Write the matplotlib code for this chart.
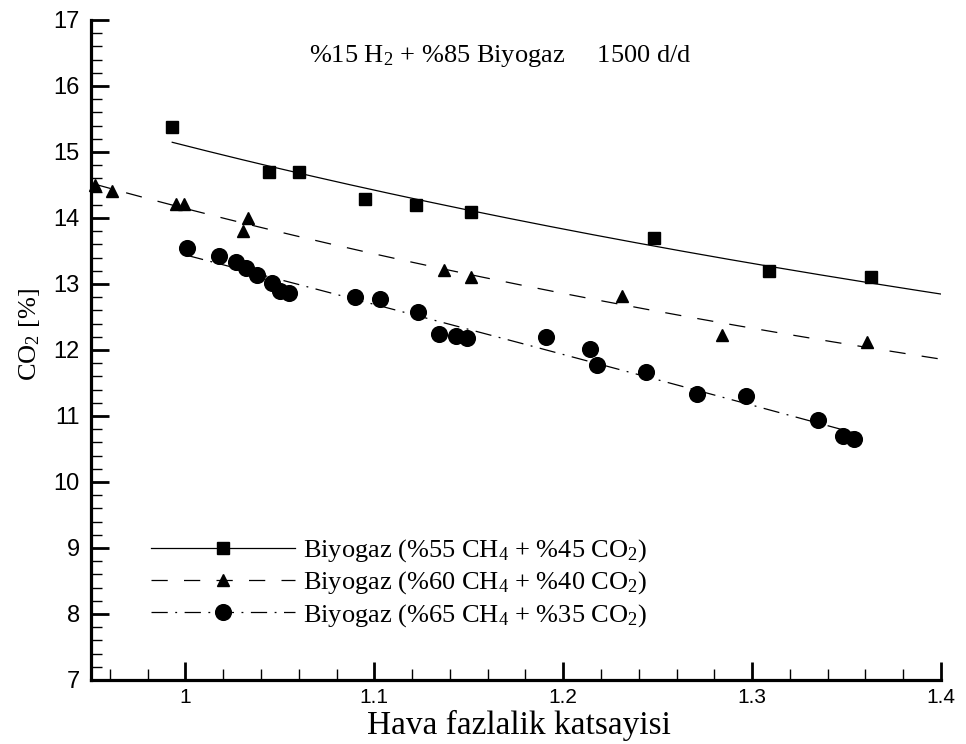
import numpy as np
import matplotlib
matplotlib.use("Agg")
import matplotlib.pyplot as plt
from matplotlib.ticker import MultipleLocator, FixedLocator, FixedFormatter

plt.rcParams['mathtext.fontset'] = 'custom'
plt.rcParams['mathtext.rm'] = 'Liberation Serif'
plt.rcParams['mathtext.it'] = 'Liberation Serif:italic'

# ---------------- data ----------------
x_sq = [0.993, 1.044, 1.060, 1.095, 1.122, 1.151, 1.248, 1.309, 1.363]
y_sq = [15.38, 14.70, 14.70, 14.29, 14.19, 14.09, 13.69, 13.19, 13.10]

x_tr = [0.952, 0.961, 0.995, 0.999, 1.0305, 1.033, 1.137, 1.151, 1.231, 1.284, 1.361]
y_tr = [14.50, 14.41, 14.21, 14.21, 13.81, 14.00, 13.21, 13.11, 12.82, 12.22, 12.12]

x_ci = [1.001, 1.018, 1.027, 1.032, 1.038, 1.046, 1.050, 1.055, 1.090, 1.103,
        1.123, 1.134, 1.143, 1.149, 1.191, 1.214, 1.218, 1.244, 1.271, 1.297,
        1.335, 1.348, 1.354]
y_ci = [13.54, 13.43, 13.33, 13.24, 13.13, 13.02, 12.89, 12.87, 12.80, 12.78,
        12.57, 12.24, 12.21, 12.18, 12.19, 12.02, 11.78, 11.67, 11.34, 11.30,
        10.94, 10.70, 10.65]

labels = [r"Biyogaz (%55 CH$_4$ + %45 CO$_2$)",
          r"Biyogaz (%60 CH$_4$ + %40 CO$_2$)",
          r"Biyogaz (%65 CH$_4$ + %35 CO$_2$)"]
title_txt = r"%15 H$_2$ + %85 Biyogaz     1500 d/d"
xlabel = "Hava fazlalik katsayisi"
ylabel = r"CO$_2$ [%]"
xticks = [1.0, 1.1, 1.2, 1.3, 1.4]
xticklabels = ["1", "1.1", "1.2", "1.3", "1.4"]
yticks = [7, 8, 9, 10, 11, 12, 13, 14, 15, 16, 17]

# ---------------- fits ----------------
def power_fit(x, y):
    b, lna = np.polyfit(np.log(x), np.log(y), 1)
    return lambda t: np.exp(lna) * np.power(t, b)

f_sq = power_fit(np.array(x_sq), np.array(y_sq))
f_tr = power_fit(np.array(x_tr), np.array(y_tr))
p_ci = np.polyfit(x_ci, y_ci, 2)

XMAX = 1.4
t_sq = np.linspace(min(x_sq), XMAX, 200)
t_tr = np.linspace(min(x_tr), XMAX, 200)
t_ci = np.linspace(min(x_ci), max(x_ci), 200)

# ---------------- figure ----------------
fig = plt.figure(figsize=(9.66, 7.44), dpi=100)
ax = fig.add_axes([91/966, 1-680/744, (941-91)/966, (680-20)/744])

dash_ls = (0, (13, 13))
dashdot_ls = (0, (13, 6, 1.5, 6))
LW = 0.9
MS_SQ, MS_TR, MS_CI = 8.7, 8.5, 11.3

ax.plot(t_sq, f_sq(t_sq), color='black', lw=LW, ls='-')
ax.plot(t_tr, f_tr(t_tr), color='black', lw=LW, ls=dash_ls)
ax.plot(t_ci, np.polyval(p_ci, t_ci), color='black', lw=LW, ls=dashdot_ls)

ax.plot(x_sq, y_sq, ls='none', marker='s', ms=MS_SQ, color='black', clip_on=False)
ax.plot(x_tr, y_tr, ls='none', marker='^', ms=MS_TR, color='black', clip_on=False)
ax.plot(x_ci, y_ci, ls='none', marker='o', ms=MS_CI, color='black', clip_on=False)

# legend proxies
h1, = ax.plot([], [], color='black', lw=LW, ls='-', marker='s', ms=MS_SQ + 0.5)
h2, = ax.plot([], [], color='black', lw=LW, ls=dash_ls, marker='^', ms=MS_TR + 0.5)
h3, = ax.plot([], [], color='black', lw=LW, ls=dashdot_ls, marker='o', ms=MS_CI)
leg = ax.legend([h1, h2, h3], labels, loc='lower left',
                bbox_to_anchor=(0.0706, 0.078), frameon=False,
                prop={'family': 'Liberation Serif', 'size': 19},
                handlelength=5.45, handletextpad=0.3, labelspacing=0.2,
                borderpad=0.0, borderaxespad=0.0)

ax.set_xlim(0.95, XMAX)
ax.set_ylim(7, 17)

for s in ['top', 'right']:
    ax.spines[s].set_visible(False)
for s in ['left', 'bottom']:
    ax.spines[s].set_linewidth(2.3)

ax.xaxis.set_major_locator(FixedLocator(xticks))
ax.xaxis.set_major_formatter(FixedFormatter(xticklabels))
ax.xaxis.set_minor_locator(MultipleLocator(0.02))
ax.yaxis.set_major_locator(FixedLocator(yticks))
ax.yaxis.set_minor_locator(MultipleLocator(0.2))

ax.tick_params(axis='both', which='major', direction='in', length=13, width=2.0)
ax.tick_params(axis='both', which='minor', direction='in', length=8, width=1.0)
ax.tick_params(axis='x', which='major', labelsize=15, pad=6)
ax.tick_params(axis='y', which='major', labelsize=17, pad=8)
for lab in ax.get_xticklabels() + ax.get_yticklabels():
    lab.set_family('Liberation Sans')

ax.set_xlabel(xlabel, family='Liberation Serif', fontsize=24)
ax.xaxis.set_label_coords(0.503, -0.045)
ax.set_ylabel(ylabel, family='Liberation Serif', fontsize=19)
ax.yaxis.set_label_coords(-0.058, 0.523)

ax.text(0.482, 0.936, title_txt, transform=ax.transAxes, ha='center', va='baseline',
        family='Liberation Serif', fontsize=19)

fig.savefig("out.png", dpi=100)
